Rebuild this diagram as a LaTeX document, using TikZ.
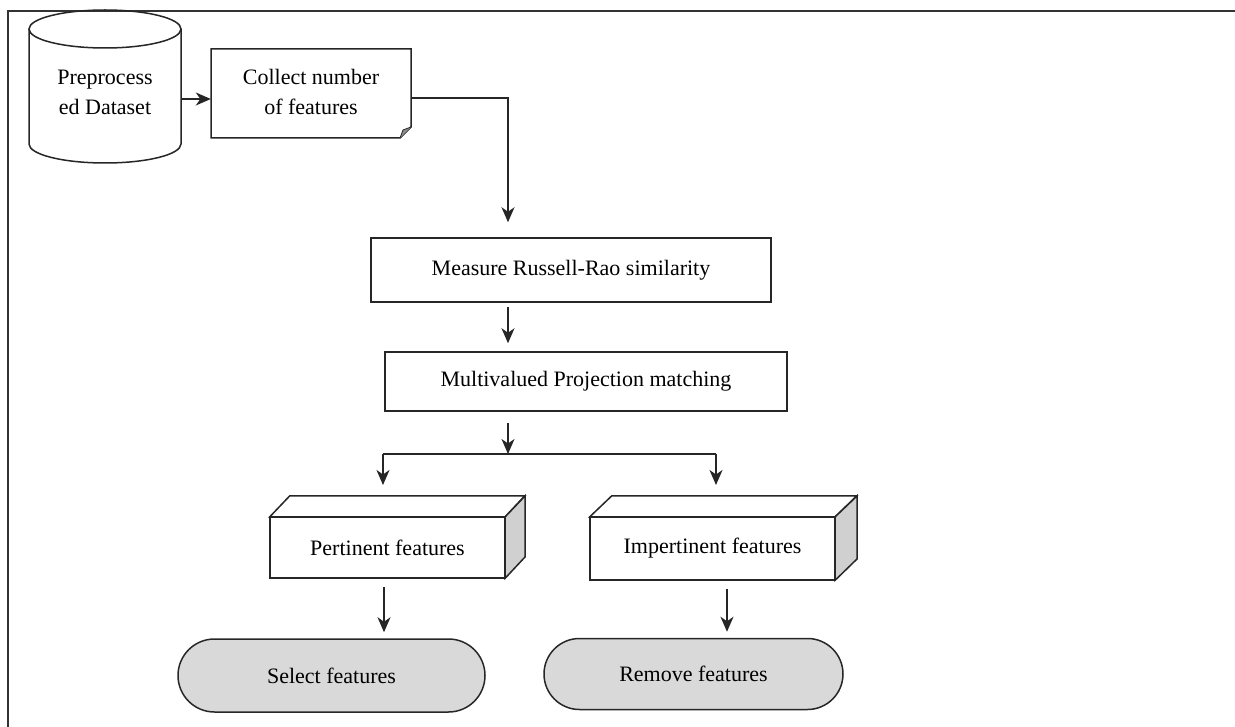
\documentclass[tikz,border=0pt]{standalone}
\usepackage{fontspec}
\setmainfont{Liberation Serif}
\usetikzlibrary{arrows.meta,calc,shapes.misc}
\definecolor{shade}{HTML}{D9D9D9}
\definecolor{sidegray}{HTML}{D0D0D0}
\tikzset{
  ln/.style={line width=1.5pt, draw=black!85},
  arr/.style={ln, -{Stealth[length=15pt,width=13pt,inset=4.5pt]}},
  box/.style={ln, rectangle, inner sep=0pt, align=center},
  txt/.style={font=\fontsize{22}{30}\selectfont, align=center, inner sep=0pt},
  term/.style={ln, rounded rectangle, fill=shade, inner sep=0pt},
}
\begin{document}
\begin{tikzpicture}[x=1pt,y=-1pt]
\useasboundingbox (0,0) rectangle (1235,727);
% frame
\draw[line width=1.6pt, draw=black!80] (8,727) -- (8,11) -- (1235,11);

% cylinder
\node[minimum width=152pt, minimum height=153pt, inner sep=0pt] (cyl) at (105,87) {};
\draw[ln, fill=white] (29,29) -- (29,144) arc[start angle=180, end angle=0, x radius=76, y radius=19] -- (181,29);
\draw[ln] (105,29) ellipse[x radius=76, y radius=19];
\node[txt] (cyltext) at (105,92) {Preprocess\\ed Dataset};

% collect box with folded corner
\node[minimum width=200pt, minimum height=89pt, inner sep=0pt] (coll) at (311,94) {};
\draw[ln] (211,49) -- (411,49) -- (411,127) -- (400,138) -- (211,138) -- cycle;
\draw[ln, fill=black!45, line width=0.8pt] (411,127) -- (403,130) -- (400,138);
\node[txt] (colltext) at (311,92) {Collect number\\of features};

% spine coordinate
\coordinate (sp) at (508,0);

% measure
\node[box, minimum width=400pt, minimum height=64pt, txt, draw] (meas) at (571,270) {Measure Russell-Rao similarity};
% multivalued
\node[box, minimum width=402pt, minimum height=59pt, txt, draw] (mult) at (586,381.5) {Multivalued Projection matching};

% cubes
\node[txt, minimum width=235pt, minimum height=61pt] (pert) at (387.5,547.5) {Pertinent features};
\draw[ln, fill=white] (pert.north west) -- ++(20,-21) -- ++(235,0) -- (pert.north east) -- cycle;
\draw[ln, fill=sidegray] (pert.north east) -- ++(20,-21) -- ++(0,61) -- (pert.south east) -- cycle;
\draw[ln] (pert.north west) rectangle (pert.south east);

\node[txt, minimum width=245pt, minimum height=63pt] (imp) at (712.5,548.5) {Impertinent features};
\draw[ln, fill=white] (imp.north west) -- ++(22,-21) -- ++(245,0) -- (imp.north east) -- cycle;
\draw[ln, fill=sidegray] (imp.north east) -- ++(22,-21) -- ++(0,63) -- (imp.south east) -- cycle;
\draw[ln] (imp.north west) rectangle (imp.south east);

% terminals
\node[term, minimum width=307pt, minimum height=73pt, txt, draw] (sel) at (331.5,675.5) {Select features};
\node[term, minimum width=299pt, minimum height=71pt, txt, draw] (rem) at (693.5,674) {Remove features};

% connectors
\draw[arr] ([yshift=-12pt]cyl.east) -- ([yshift=-5pt]coll.west);
\draw[arr, shorten >=15pt] ([yshift=-4pt]coll.east) -| (sp |- meas.north);
\draw[arr, shorten <=4pt, shorten >=8pt] (sp |- meas.south) -- (sp |- mult.north);
\coordinate (j) at (sp |- 0,454);
\draw[arr, shorten <=11pt] (sp |- mult.south) -- (j);
\coordinate (jl) at (383,454);
\coordinate (jr) at (716,454);
\draw[ln] (jl) -- (jr);
\draw[arr, shorten >=11pt] (jl) -- (jl |- 0,496);
\draw[arr, shorten >=11pt] (jr) -- (jr |- 0,496);
\coordinate (pl) at (384,0);
\coordinate (il) at (727,0);
\draw[arr, shorten <=9pt, shorten >=6pt] (pl |- pert.south) -- (pl |- sel.north);
\draw[arr, shorten <=9pt, shorten >=6pt] (il |- imp.south) -- (il |- rem.north);
\end{tikzpicture}
\end{document}
